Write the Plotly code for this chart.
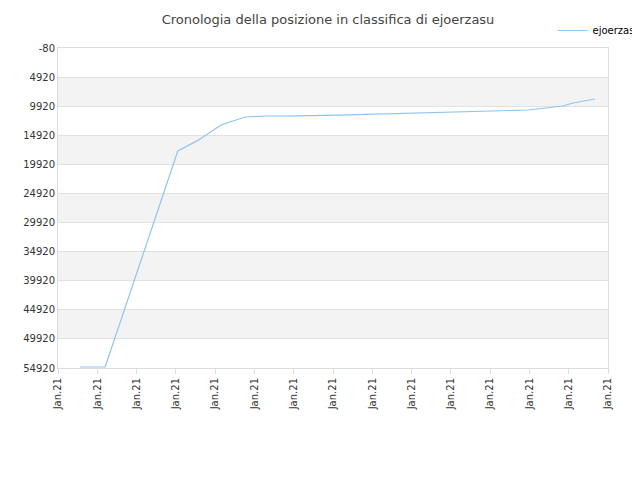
import plotly.graph_objects as go

# positions along the time axis (tick index units) and rank values
x_pos = [0.56, 1.2, 3.05, 3.56, 4.15, 4.76, 5.34, 6.11, 7.13, 8.14, 9.16,
         10.18, 10.94, 11.96, 12.85, 13.11, 13.67]
rank = [54750, 54750, 17620, 15800, 13150, 11780, 11610, 11600, 11440, 11260,
        11090, 10920, 10750, 10580, 9890, 9370, 8690]
tick_vals = list(range(15))
tick_text = ["Jan.21"] * 15
y_ticks = [-80 + 5000 * i for i in range(12)]
y_text = [str(v) for v in y_ticks]

fig = go.Figure(go.Scatter(
    x=x_pos, y=rank, mode="lines", name="ejoerzasu",
    line=dict(color="#90c4f0", width=1.2),
))

shapes = []
for i in range(1, 11, 2):
    shapes.append(dict(type="rect", xref="paper", x0=0, x1=1, yref="y",
                       y0=y_ticks[i], y1=y_ticks[i + 1],
                       fillcolor="#f3f3f3", line_width=0, layer="below"))

fig.update_layout(
    width=640, height=480,
    margin=dict(l=50, r=40, t=40, b=120, autoexpand=False),
    plot_bgcolor="white", paper_bgcolor="white",
    font=dict(family="DejaVu Sans", size=10, color="#333"),
    title=dict(text="Cronologia della posizione in classifica di ejoerzasu",
               x=0.5, y=0.985, font=dict(size=13, color="#444")),
    showlegend=True,
    legend=dict(x=1.07, y=1.1, xanchor="right", yanchor="top",
                font=dict(size=10, color="#000")),
    shapes=shapes,
    xaxis=dict(range=[0, 14], tickvals=tick_vals, ticktext=tick_text,
               tickangle=-90, showgrid=False, zeroline=False, automargin=False,
               showline=True, linecolor="#ddd", ticks="outside",
               ticklen=5, tickcolor="#ddd", mirror=True),
    yaxis=dict(range=[54920, -80], tickvals=y_ticks, ticktext=y_text,
               automargin=False,
               showgrid=True, gridcolor="#e2e2e2", zeroline=False,
               showline=True, linecolor="#ddd", mirror=True),
)

fig.write_html("out.html")
